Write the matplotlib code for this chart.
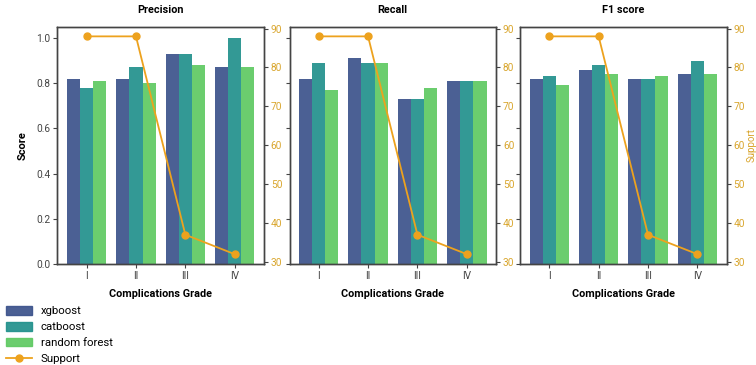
import matplotlib
matplotlib.use("Agg")
import matplotlib.pyplot as plt
import numpy as np
from matplotlib.lines import Line2D
from matplotlib.patches import Patch

plt.rcParams['font.family'] = ['Roboto', 'DejaVu Sans']

grades = ["I", "II", "III", "IV"]
models = ["xgboost", "catboost", "random forest"]
support = [88, 88, 37, 32]

precision = {
    "xgboost": [0.82, 0.82, 0.93, 0.87],
    "catboost": [0.78, 0.87, 0.93, 1.00],
    "random forest": [0.81, 0.80, 0.88, 0.87],
}
recall = {
    "xgboost": [0.82, 0.91, 0.73, 0.81],
    "catboost": [0.89, 0.89, 0.73, 0.81],
    "random forest": [0.77, 0.89, 0.78, 0.81],
}
f1 = {
    "xgboost": [0.82, 0.86, 0.82, 0.84],
    "catboost": [0.83, 0.88, 0.82, 0.90],
    "random forest": [0.79, 0.84, 0.83, 0.84],
}
metrics = [("Precision", precision), ("Recall", recall), ("F1 score", f1)]

colors = ["#3b528b", "#21918c", "#5ec962"]
orange = "#EDA21E"
tickcol = "#D9A62E"
spine = "#444444"

fig = plt.figure(figsize=(7.56, 3.65), dpi=100)
lefts = [0.076, 0.383, 0.688]
w = 0.273
x = np.arange(len(grades))
bw = 0.8 / 3

for i, (title, d) in enumerate(metrics):
    ax = fig.add_axes([lefts[i], 0.277, w, 0.650])
    for j, m in enumerate(models):
        ax.bar(x + (j - 1) * bw, d[m], width=bw, color=colors[j], alpha=0.92, linewidth=0)
    ax.set_ylim(0, 1.05)
    ax.set_xlim(-0.59, 3.59)
    ax.set_xticks(x)
    ax.set_xticklabels(grades)
    ax.set_yticks([0, 0.2, 0.4, 0.6, 0.8, 1.0])
    ax.tick_params(labelsize=7.3, colors="#444444", length=3, width=0.8, pad=2)
    if i == 0:
        ax.set_ylabel("Score", fontsize=8, fontweight="bold", labelpad=6)
        ax.set_yticklabels(["0.0", "0.2", "0.4", "0.6", "0.8", "1.0"])
    else:
        ax.set_yticklabels([])
    ax.set_title(title, fontsize=7.8, fontweight="bold", pad=10)
    ax.set_xlabel("Complications Grade", fontsize=7.8, fontweight="bold", labelpad=6)
    for s in ax.spines.values():
        s.set_color(spine)
        s.set_linewidth(1.0)

    ax2 = ax.twinx()
    ax2.plot(x, support, color=orange, marker="o", markersize=5, linewidth=1.3)
    ax2.set_ylim(29.5, 90.5)
    ax2.set_yticks([30, 40, 50, 60, 70, 80, 90])
    ax2.tick_params(labelsize=7.3, colors=tickcol, length=3, width=0.8, pad=2)
    ax2.tick_params(axis="y", color=spine)
    for s in ax2.spines.values():
        s.set_color(spine)
        s.set_linewidth(1.0)
    if i == 2:
        ax2.set_ylabel("Support", fontsize=7, color=tickcol, labelpad=1)

handles = [Patch(color=colors[j], alpha=0.92, label=models[j]) for j in range(3)]
handles.append(Line2D([0], [0], color=orange, marker="o", markersize=5, linewidth=1.3, label="Support"))
fig.legend(handles=handles, loc="lower left", bbox_to_anchor=(0.0, -0.012), frameon=False,
           fontsize=8.2, handlelength=2.3, handleheight=0.8, labelspacing=0.48,
           borderaxespad=0.1, handletextpad=0.8)

fig.savefig("out.png", dpi=100)
